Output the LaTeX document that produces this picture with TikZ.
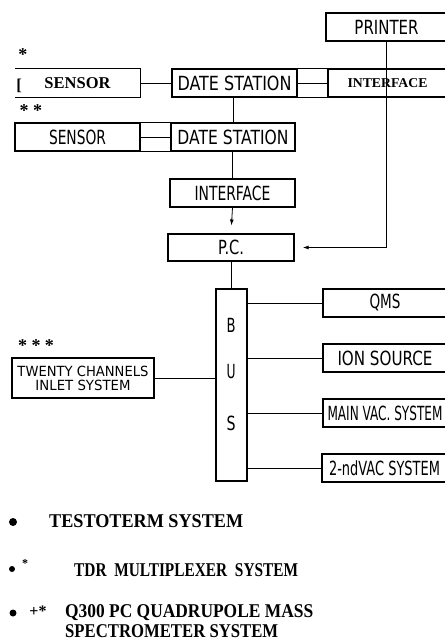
\documentclass[tikz,border=0pt]{standalone}
\usepackage{fontspec}
\usepackage{graphicx}
\usetikzlibrary{arrows.meta}
\newfontfamily\stencil{DejaVu Sans}
\newfontfamily\typeset{Liberation Serif}
\newcommand\fitw[2]{\resizebox{#1}{\height}{#2}}

\begin{document}
\begin{tikzpicture}[x=1pt, y=-1pt,
    blok/.style={draw, line width=1.1pt, inner sep=0pt, minimum height=28pt,
      font=\stencil\fontsize{19.5}{20}\selectfont},
    spoj/.style={line width=0.8pt},
    sipka/.style={-{Latex[length=6pt,width=4pt]}, shorten >=8pt},
    tucne/.style={inner sep=0pt, font=\typeset\bfseries\fontsize{16.5}{17}\selectfont},
    legenda/.style={inner sep=0pt, anchor=base west, font=\typeset\bfseries\fontsize{19.5}{20}\selectfont},
    hvezda/.style={inner sep=0pt, font=\typeset\bfseries\fontsize{18}{18}\selectfont}]
  \useasboundingbox (0,0) rectangle (445,641);

  % Prvni rada
  \node[blok, minimum width=121pt] (printer) at (386.5,27) {\fitw{64pt}{PRINTER}};
  \node[hvezda] (star1) at (23,55) {*};
  \node[tucne, minimum width=125pt, minimum height=28pt] (sensor1) at (77.5,83) {SENSOR};
  \node[tucne, anchor=base] (bracket) at (19,90) {[};
  \node[blok, minimum width=125pt] (ds1) at (234.5,83) {\fitw{114pt}{DATE STATION}};
  \node[blok, minimum width=119pt, font=\typeset\bfseries\fontsize{13.5}{14}\selectfont] (if1) at (387.5,83) {\fitw{80pt}{INTERFACE}};
  \draw[line width=1.3pt] (sensor1.north west) -- (sensor1.north east) -- (sensor1.south east) -- (sensor1.south west);
  \draw[line width=1.1pt] (ds1.north east) -- (if1.north west) (ds1.south east) -- (if1.south west);
  \draw[spoj] (sensor1.east) -- (ds1.west);
  \draw[spoj] (ds1.east) -- (if1.west);

  % Druha rada
  \node[hvezda] (star2) at (31,111) {* *};
  \node[blok, minimum width=125pt] (sensor2) at (77.5,137) {\fitw{57pt}{SENSOR}};
  \node[blok, minimum width=124pt] (ds2) at (233,137) {\fitw{111pt}{DATE STATION}};
  \draw[line width=1.1pt] (sensor2.north east) -- (ds2.north west) (sensor2.south east) -- (ds2.south west);
  \draw[spoj] (sensor2.east) -- (ds2.west);
  \draw[spoj] (ds2.north) -- (ds2.north |- ds1.south);

  % Interface a P.C.
  \node[blok, minimum width=125pt] (if2) at (232.5,193) {\fitw{76pt}{INTERFACE}};
  \node[blok, minimum width=126pt, minimum height=27pt] (pc) at (231,247.5) {\fitw{26pt}{P.C.}};
  \draw[spoj] (if2.north) -- (if2.north |- ds2.south);
  \draw[spoj, sipka] (if2.south) -- (pc.north);
  \draw[line width=1.1pt, sipka] (printer.south) |- (pc.east);

  % Sbernice
  \node[blok, minimum width=31pt, minimum height=192pt] (bus) at (231.5,385) {};
  \foreach \y/\t in {325/B, 372/U, 423/S}
    \node[inner sep=0pt, font=\stencil\fontsize{19.5}{20}\selectfont] (bus\t) at (231,\y) {\fitw{9pt}{\t}};
  \draw[spoj] (pc.south) -- (pc.south |- bus.north);

  % Moduly
  \node[blok, minimum width=124pt] (qms) at (385,303) {\fitw{31pt}{QMS}};
  \node[blok, minimum width=124pt] (ion) at (385,358) {\fitw{95pt}{ION SOURCE}};
  \node[blok, minimum width=124pt] (mainvac) at (385,413) {\fitw{115pt}{MAIN VAC. SYSTEM}};
  \node[blok, minimum width=125pt] (vac2) at (384.5,468) {\fitw{111pt}{2-ndVAC SYSTEM}};
  \foreach \n in {qms, ion, mainvac, vac2}
    \draw[spoj] (\n.west -| bus.east) -- (\n.west);

  \node[hvezda] (star3) at (36,346) {* * *};
  \node[blok, minimum width=142pt, minimum height=40pt, align=center,
    font=\stencil\fontsize{14}{14}\selectfont] (twenty) at (83,378)
    {\fitw{131pt}{TWENTY CHANNELS}\\\fitw{95pt}{INLET SYSTEM}};
  \draw[spoj] (twenty.east) -- (twenty.east -| bus.west);

  % Legenda
  \foreach \x/\y/\r in {13/522/4, 12/569/3, 13/613/3.5}
    \fill (\x,\y) circle (\r pt);
  \node[hvezda, font=\typeset\bfseries\fontsize{12}{12}\selectfont] (mark2) at (25,564) {*};
  \node[hvezda, font=\typeset\bfseries\fontsize{16}{16}\selectfont] (mark3) at (38,611) {+*};
  \node[legenda] (leg1) at (49,527) {\fitw{194pt}{TESTOTERM SYSTEM}};
  \node[legenda] (leg2) at (74,576) {\fitw{224pt}{TDR\ \ MULTIPLEXER\ \ SYSTEM}};
  \node[legenda] (leg3) at (65,617) {\fitw{248pt}{Q300 PC QUADRUPOLE MASS}};
  \node[legenda] (leg4) at (65,637) {\fitw{213pt}{SPECTROMETER SYSTEM}};
\end{tikzpicture}
\end{document}
